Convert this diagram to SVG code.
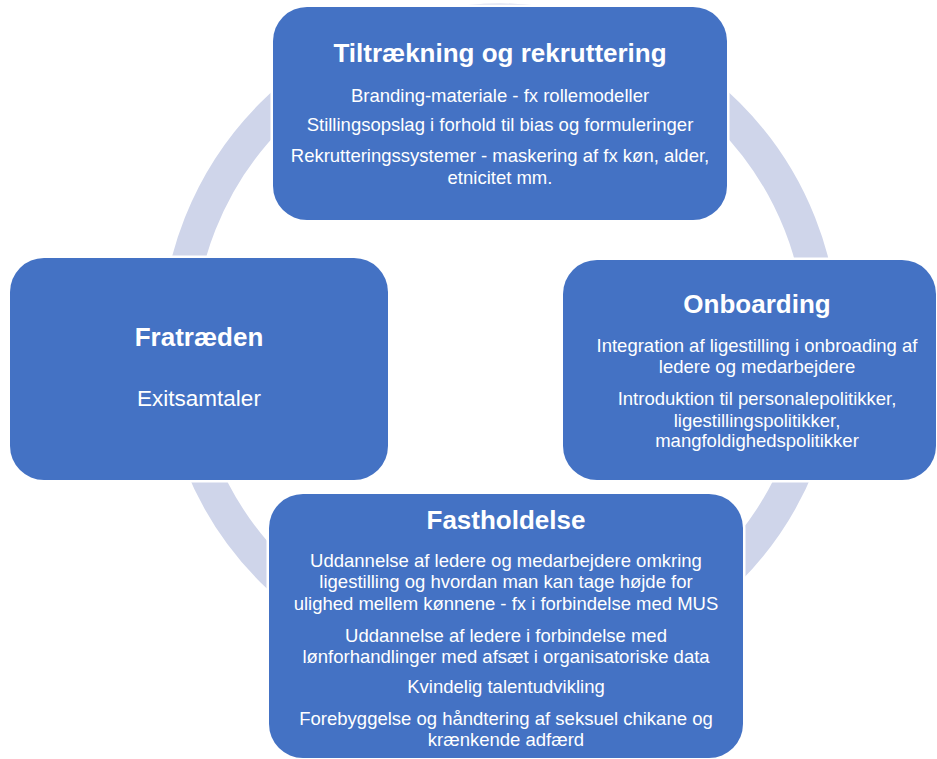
<svg xmlns="http://www.w3.org/2000/svg" width="937" height="759" viewBox="0 0 937 759">
<style>
.box{fill:#4472C4;stroke:#FFFFFF;stroke-width:5;paint-order:stroke}
.ring{fill:none;stroke:#CFD5EA;stroke-width:33}
text{font-family:"Liberation Sans",Arial,sans-serif;fill:#FFFFFF;text-anchor:middle}
.t{font-size:26px;font-weight:bold}
.b{font-size:18.5px}
.bl{font-size:22.5px}
</style>
<rect width="937" height="759" fill="#FFFFFF"/>
<g id="connectors">
<circle class="ring" cx="500" cy="342.5" r="322.5"/>
</g>
<g id="node-tiltraekning">
<rect class="box" x="273" y="7" width="454" height="213" rx="34"/>
<text class="t" x="500" y="62">Tiltrækning og rekruttering</text>
<text class="b" x="500" y="102">Branding-materiale - fx rollemodeller</text>
<text class="b" x="500" y="131">Stillingsopslag i forhold til bias og formuleringer</text>
<text class="b" x="500" y="162">Rekrutteringssystemer - maskering af fx køn, alder,</text>
<text class="b" x="500" y="184">etnicitet mm.</text>
</g>
<g id="node-onboarding">
<rect class="box" x="563" y="260" width="373" height="220" rx="34"/>
<text class="t" x="757" y="313">Onboarding</text>
<text class="b" x="757" y="352">Integration af ligestilling i onbroading af</text>
<text class="b" x="757" y="373">ledere og medarbejdere</text>
<text class="b" x="757" y="405">Introduktion til personalepolitikker,</text>
<text class="b" x="757" y="427">ligestillingspolitikker,</text>
<text class="b" x="757" y="447">mangfoldighedspolitikker</text>
</g>
<g id="node-fratraeden">
<rect class="box" x="10" y="258" width="378" height="222" rx="34"/>
<text class="t" x="199" y="346">Fratræden</text>
<text class="bl" x="199" y="406">Exitsamtaler</text>
</g>
<g id="node-fastholdelse">
<rect class="box" x="269" y="494" width="474" height="264" rx="34"/>
<text class="t" x="506" y="529">Fastholdelse</text>
<text class="b" x="506" y="567">Uddannelse af ledere og medarbejdere omkring</text>
<text class="b" x="506" y="588">ligestilling og hvordan man kan tage højde for</text>
<text class="b" x="506" y="610">ulighed mellem kønnene - fx i forbindelse med MUS</text>
<text class="b" x="506" y="642">Uddannelse af ledere i forbindelse med</text>
<text class="b" x="506" y="663">lønforhandlinger med afsæt i organisatoriske data</text>
<text class="b" x="506" y="693">Kvindelig talentudvikling</text>
<text class="b" x="506" y="725">Forebyggelse og håndtering af seksuel chikane og</text>
<text class="b" x="506" y="746">krænkende adfærd</text>
</g>
</svg>
